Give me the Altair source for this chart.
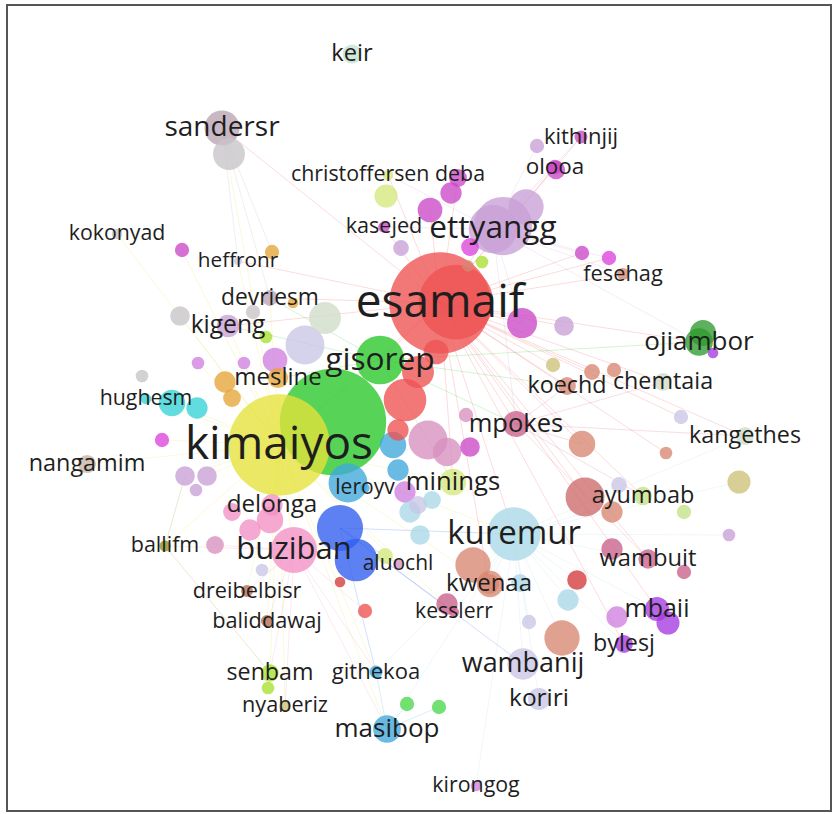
import altair as alt
import pandas as pd

# ---- network map: author co-occurrence (VOSviewer-style) ----
# node tuples: (id, label, layout_x, layout_y, weight, cluster)

NORTH_NODES = [
    ("keir", "keir", 352, 54, 3.2, 23),
    ("sandersr", "sandersr", 222, 128, 10.9, 25),
    ("u_sand2", "", 229, 154, 9, 16),
    ("christoffersen deba", "christoffersen deba", 388, 175, 1.0, 29),
    ("u_cd2", "", 386, 196, 4.7, 29),
    ("u_m1", "", 458, 178, 2.8, 12),
    ("u_m2", "", 451, 193, 4, 12),
    ("u_m3", "", 430, 210, 5.4, 12),
    ("kithinjij", "kithinjij", 581, 137, 1.5, 12),
    ("u_k2", "", 537, 146, 1.8, 10),
    ("olooa", "olooa", 555, 167, 1.9, 12),
    ("u_ol2", "", 556, 170, 3, 12),
    ("kasejed", "kasejed", 384, 227, 1.2, 12),
    ("u_ks2", "", 401, 248, 2.2, 10),
    ("kokonyad", "kokonyad", 117, 234, 0.95, 16),
    ("heffronr", "heffronr", 238, 261, 0.6, 17),
    ("u_h1", "", 182, 250, 1.8, 12),
    ("u_h2", "", 272, 252, 1.8, 7),
]

UPPER_CORE_NODES = [
    ("ettyangg", "ettyangg", 493, 229, 20.7, 10),
    ("u_e1", "", 503, 226, 30, 10),
    ("u_e2", "", 526, 207, 11, 10),
    ("u_e3", "", 470, 247, 2.8, 26),
    ("u_e4", "", 482, 262, 1.4, 20),
    ("u_e5", "", 468, 266, 1.2, 13),
    ("esamaif", "esamaif", 440, 303, 91, 1),
    ("u_r2", "", 456, 302, 49, 1),
    ("u_r3", "", 405, 400, 16, 1),
    ("u_r4", "", 418, 372, 9, 1),
    ("u_r5", "", 436, 352, 5.4, 1),
    ("u_r6", "", 398, 430, 4, 1),
    ("fesehag", "fesehag", 623, 274, 1.3, 13),
    ("u_f1", "", 582, 253, 1.8, 12),
    ("u_f2", "", 609, 258, 1.8, 26),
    ("u_mg1", "", 522, 323, 8, 12),
    ("u_mg2", "", 564, 326, 3.4, 10),
    ("ojiambor", "ojiambor", 699, 342, 6.8, 18),
    ("u_oj2", "", 703, 333, 6, 18),
    ("u_oj3", "", 713, 353, 1, 5),
    ("koechd", "koechd", 567, 386, 2.8, 13),
    ("u_ko1", "", 553, 365, 1.8, 24),
    ("u_ko2", "", 592, 372, 2.2, 13),
    ("u_ko3", "", 614, 370, 1.8, 13),
    ("chemtaia", "chemtaia", 663, 382, 2.8, 28),
]

WEST_CORE_NODES = [
    ("devriesm", "devriesm", 270, 298, 2.2, 25),
    ("u_d1", "", 293, 303, 1, 7),
    ("u_d2", "", 253, 312, 1.8, 16),
    ("u_d3", "", 325, 318, 9, 28),
    ("kigeng", "kigeng", 228, 326, 4.5, 10),
    ("u_kg1", "", 180, 316, 3.4, 16),
    ("u_kg2", "", 266, 337, 1.4, 20),
    ("u_lv1", "", 305, 345, 13.4, 17),
    ("gisorep", "gisorep", 380, 360, 21, 2),
    ("mesline", "mesline", 278, 378, 3.6, 7),
    ("u_ms1", "", 225, 382, 4, 7),
    ("u_ms2", "", 232, 398, 2.8, 7),
    ("u_p1", "", 198, 363, 1.4, 31),
    ("u_p2", "", 244, 363, 1.4, 31),
    ("u_p3", "", 275, 360, 5.4, 31),
    ("hughesm", "hughesm", 146, 399, 0.95, 6),
    ("u_hg1", "", 142, 376, 1.4, 16),
    ("u_hg2", "", 172, 403, 6.2, 6),
    ("u_hg3", "", 197, 408, 4, 6),
    ("u_g1", "", 333, 422, 100, 2),
    ("kimaiyos", "kimaiyos", 279, 445, 91, 4),
    ("u_mg3", "", 162, 440, 1.8, 26),
    ("nangamim", "nangamim", 87, 464, 2.9, 22),
    ("u_pl1", "", 185, 476, 3.4, 10),
    ("u_pl2", "", 207, 476, 3.4, 10),
    ("u_pl3", "", 196, 490, 1.4, 10),
    ("delonga", "delonga", 272, 505, 4, 9),
    ("u_dl1", "", 232, 512, 2.8, 9),
]

MIDDLE_NODES = [
    ("leroyv", "leroyv", 365, 488, 0.8, 19),
    ("u_sk1", "", 348, 483, 13.4, 19),
    ("u_sk2", "", 393, 445, 6.2, 19),
    ("u_sk3", "", 398, 470, 4, 19),
    ("minings", "minings", 453, 482, 6.25, 29),
    ("u_pu1", "", 405, 492, 4, 31),
    ("u_lv2", "", 418, 505, 2.8, 17),
    ("mpokes", "mpokes", 516, 424, 6, 21),
    ("u_mp1", "", 428, 440, 13.4, 32),
    ("u_mp2", "", 447, 452, 7.1, 32),
    ("u_mp3", "", 470, 447, 3.4, 12),
    ("u_mp4", "", 466, 415, 1.8, 32),
    ("u_lb3", "", 410, 512, 4, 11),
    ("u_lb4", "", 432, 500, 2.8, 11),
    ("buziban", "buziban", 294, 550, 18.8, 9),
    ("u_bz1", "", 270, 520, 6.2, 9),
    ("u_bz2", "", 250, 530, 4, 9),
    ("u_lv3", "", 262, 570, 1.4, 17),
    ("u_bl1", "", 340, 528, 18.8, 3),
    ("u_bl2", "", 356, 560, 16, 3),
    ("aluochl", "aluochl", 398, 564, 0.75, 32),
    ("u_lb1", "", 420, 535, 3.4, 11),
    ("u_al1", "", 385, 556, 2.2, 29),
    ("u_rs1", "", 340, 582, 1, 27),
    ("kuremur", "kuremur", 514, 534, 25.3, 11),
]

EAST_NODES = [
    ("u_sa1", "", 582, 444, 6.2, 13),
    ("kangethes", "kangethes", 745, 436, 2.8, 28),
    ("u_kg3", "", 681, 417, 1.8, 17),
    ("u_kg4", "", 666, 453, 1.4, 13),
    ("u_ol3", "", 739, 482, 4.7, 24),
    ("ayumbab", "ayumbab", 643, 496, 3, 15),
    ("u_ay1", "", 585, 497, 13.4, 33),
    ("u_ay2", "", 612, 512, 4, 13),
    ("u_ay3", "", 684, 512, 1.8, 15),
    ("u_ay4", "", 619, 485, 2.2, 17),
    ("u_li1", "", 729, 535, 1.4, 10),
    ("wambuit", "wambuit", 648, 559, 3.3, 21),
    ("u_wb1", "", 612, 549, 4, 21),
    ("u_wb2", "", 684, 572, 1.8, 21),
    ("mbaii", "mbaii", 657, 609, 5.1, 5),
    ("u_mb1", "", 668, 623, 4.7, 5),
    ("u_mb2", "", 617, 617, 4, 31),
    ("bylesj", "bylesj", 624, 644, 2.8, 5),
    ("u_rd1", "", 577, 580, 3.4, 27),
    ("u_lb2", "", 568, 600, 4, 11),
]

SOUTH_NODES = [
    ("ballifm", "ballifm", 165, 546, 1.1, 14),
    ("u_bf1", "", 215, 545, 2.8, 32),
    ("dreibelbisr", "dreibelbisr", 247, 591, 1.25, 8),
    ("baliddawaj", "baliddawaj", 267, 621, 1.3, 8),
    ("kwenaa", "kwenaa", 489, 584, 3.6, 13),
    ("u_kw1", "", 473, 565, 11, 13),
    ("u_kw2", "", 490, 584, 6.2, 13),
    ("u_kw3", "", 520, 583, 2.8, 11),
    ("kesslerr", "kesslerr", 454, 612, 0.9, 21),
    ("u_ks3", "", 447, 604, 4, 21),
    ("u_rs2", "", 365, 611, 1.8, 1),
    ("u_lv4", "", 529, 622, 1.8, 17),
    ("u_sa2", "", 562, 638, 11, 13),
    ("wambanij", "wambanij", 523, 664, 8.7, 17),
    ("koriri", "koriri", 539, 699, 4.3, 17),
    ("senbam", "senbam", 270, 673, 2.7, 20),
    ("u_sb2", "", 268, 688, 1.4, 20),
    ("nyaberiz", "nyaberiz", 285, 706, 1.2, 24),
    ("githekoa", "githekoa", 376, 672, 1.5, 19),
    ("u_gr1", "", 407, 704, 1.8, 30),
    ("u_gr2", "", 439, 707, 1.8, 30),
    ("masibop", "masibop", 387, 729, 6.8, 19),
    ("kirongog", "kirongog", 476, 786, 1.0, 31),
]

# cluster palette
CLUSTER_IDS = list(range(1, 34))
CLUSTER_COLORS = [
    "#ee5252", "#28c828", "#2f5ef0", "#e6e23a", "#a53ae0", "#35d2d6",
    "#e6a437", "#b46a4e", "#f290c4", "#c8a0d6", "#a9d8e8", "#cc48c6",
    "#d98672", "#8f8f22", "#c4e286", "#c8c4c8", "#c9c5e6", "#2f9a2f",
    "#3fa8dc", "#a6e030", "#c9608a", "#c9b4a2", "#c4e3d0", "#cdc27a",
    "#b8a4b4", "#dd44dd", "#d43a3a", "#cfdcc8", "#d4e87e", "#4ad84a",
    "#cf7fe0", "#d890c0", "#cc6a6a",
]

# co-authorship links, grouped by hub author
LINKS_ESAMAIF = ["ettyangg", "gisorep", "kimaiyos", "fesehag", "olooa", "kithinjij",
                 "kasejed", "christoffersen deba", "ojiambor", "koechd", "chemtaia",
                 "mpokes", "kuremur", "kangethes", "ayumbab", "heffronr", "devriesm",
                 "kigeng", "sandersr", "wambuit", "mbaii", "u_mg1", "u_mg2", "u_f1",
                 "u_f2", "minings", "kwenaa", "u_sa1", "u_kg3", "u_ko1", "u_ko2",
                 "u_ay1", "u_m1", "u_m3", "u_kg4", "bylesj"]
LINKS_KIMAIYOS = ["hughesm", "nangamim", "ballifm", "delonga", "buziban", "mesline",
                  "kigeng", "kokonyad", "sandersr", "heffronr", "dreibelbisr", "senbam",
                  "masibop", "githekoa", "aluochl", "kuremur", "minings", "leroyv",
                  "baliddawaj", "nyaberiz", "u_mg3", "u_h1", "devriesm", "kwenaa",
                  "kesslerr", "u_pl1", "u_pl2", "u_kg1", "u_hg2", "u_p1"]
LINKS_ETTYANGG = ["olooa", "kithinjij", "fesehag", "u_f1", "u_f2", "kasejed",
                  "christoffersen deba", "mpokes", "ojiambor", "u_mg1", "u_k2"]
LINKS_KUREMUR = ["kwenaa", "kesslerr", "wambanij", "koriri", "mbaii", "bylesj",
                 "wambuit", "ayumbab", "masibop", "githekoa", "u_sa2", "u_rd1",
                 "kangethes", "u_ol3", "u_li1", "kirongog", "u_lb2", "u_lv4"]
LINKS_BUZIBAN = ["ballifm", "dreibelbisr", "baliddawaj", "senbam", "nyaberiz",
                 "delonga", "u_bf1", "masibop", "githekoa", "u_rs2"]
LINKS_GISOREP = ["devriesm", "kigeng", "mesline", "mpokes", "minings", "ojiambor",
                 "koechd"]
LINKS_SANDERSR = ["u_sand2", "heffronr", "devriesm", "u_h2"]
LINKS_MPOKES = ["ayumbab", "chemtaia", "koechd", "kangethes", "u_sa1", "wambuit"]
LINKS_BALLIFM = ["senbam", "u_pl1"]
LINKS_MASIBOP = ["u_gr1", "u_gr2", "githekoa"]
LINKS_BLUE = ["kuremur", "aluochl", "kesslerr", "githekoa", "wambanij"]

HUBS = [
    ("esamaif", LINKS_ESAMAIF), ("kimaiyos", LINKS_KIMAIYOS),
    ("ettyangg", LINKS_ETTYANGG), ("kuremur", LINKS_KUREMUR),
    ("buziban", LINKS_BUZIBAN), ("gisorep", LINKS_GISOREP),
    ("sandersr", LINKS_SANDERSR), ("mpokes", LINKS_MPOKES),
    ("ballifm", LINKS_BALLIFM), ("masibop", LINKS_MASIBOP),
    ("u_bl1", LINKS_BLUE),
]

node_rows = (NORTH_NODES + UPPER_CORE_NODES + WEST_CORE_NODES
             + MIDDLE_NODES + EAST_NODES + SOUTH_NODES)
nodes = pd.DataFrame(node_rows, columns=["id", "label", "x", "y", "weight", "cluster"])
edges = pd.DataFrame(
    [(hub, t) for hub, targets in HUBS for t in targets],
    columns=["source", "target"],
)

x_scale = alt.Scale(domain=[7, 831])
y_scale = alt.Scale(domain=[5, 811], reverse=True)
color_scale = alt.Scale(domain=CLUSTER_IDS, range=CLUSTER_COLORS)

links = (
    alt.Chart(edges)
    .transform_lookup(
        lookup="source",
        from_=alt.LookupData(data=nodes, key="id", fields=["x", "y", "cluster"]),
        as_=["sx", "sy", "sc"],
    )
    .transform_lookup(
        lookup="target",
        from_=alt.LookupData(data=nodes, key="id", fields=["x", "y"]),
        as_=["tx", "ty"],
    )
    .mark_rule(strokeWidth=1, opacity=0.2)
    .encode(
        x=alt.X("sx:Q", scale=x_scale, axis=None),
        y=alt.Y("sy:Q", scale=y_scale, axis=None),
        x2="tx:Q",
        y2="ty:Q",
        color=alt.Color("sc:O", scale=color_scale, legend=None),
    )
)

bubbles = (
    alt.Chart(nodes)
    .mark_circle(opacity=0.78, stroke=None)
    .encode(
        x=alt.X("x:Q", scale=x_scale, axis=None),
        y=alt.Y("y:Q", scale=y_scale, axis=None),
        size=alt.Size("weight:Q", scale=alt.Scale(type="linear", domain=[0, 100],
                                                  range=[0, 11310]), legend=None),
        color=alt.Color("cluster:O", scale=color_scale, legend=None),
        order=alt.Order("weight:Q", sort="descending"),
    )
)

labels = (
    alt.Chart(nodes)
    .transform_filter("datum.label != ''")
    .mark_text(font="Open Sans", color="#1e1e1e", align="center", baseline="middle")
    .encode(
        x=alt.X("x:Q", scale=x_scale, axis=None),
        y=alt.Y("y:Q", scale=y_scale, axis=None),
        text="label:N",
        size=alt.Size("weight:Q", scale=alt.Scale(type="sqrt", domain=[0, 100],
                                                  range=[18.5, 47.3]), legend=None),
    )
)

chart = (
    alt.layer(links, bubbles, labels)
    .resolve_scale(size="independent")
    .properties(
        width=824,
        height=806,
        padding={"left": 7, "top": 5, "right": 8, "bottom": 3},
        autosize="none",
        background="white",
    )
    .configure_view(stroke="#555555", strokeWidth=2)
)

chart.save("out.html", embed_options={"renderer": "svg", "actions": False})
